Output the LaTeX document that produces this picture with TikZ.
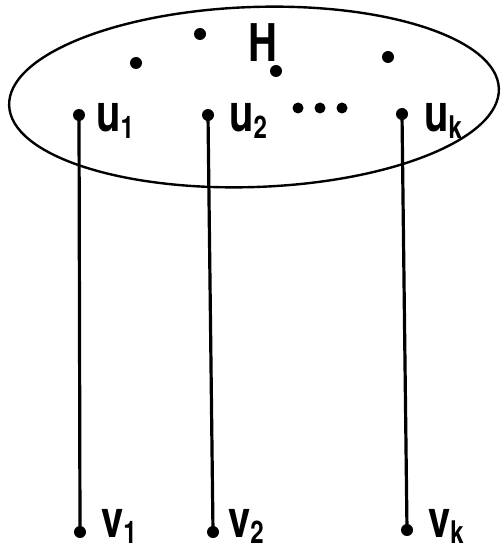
\documentclass[tikz,border=0pt]{standalone}
\usepackage{fontspec}
\setmainfont{TeX Gyre Heros}
\newcommand{\lab}[2]{\scalebox{1.0}[1.3]{\fontsize{40}{48}\selectfont\bfseries #1\raisebox{-0.12em}{\fontsize{24}{28}\selectfont\bfseries #2}}}
\begin{document}
\begin{tikzpicture}[x=1pt,y=-1pt,
  dot/.style={circle,fill=black,inner sep=0pt,minimum size=12pt},
  edge/.style={line width=3.2pt},
  lbl/.style={anchor=base west,inner sep=0pt}]
\useasboundingbox (0,0) rectangle (501,556);
\draw[line width=2.4pt,rotate around={2:(254,97)}] (254,97) ellipse [x radius=245, y radius=90];
\node[dot] (a) at (200,34) {};
\node[dot] (b) at (136,63) {};
\node[dot] (c) at (276,71) {};
\node[dot] (d) at (388,57) {};
\node[dot] (u1) at (79,115) {};
\node[dot] (u2) at (208,115) {};
\node[dot] (uk) at (402,114) {};
\node[dot,minimum size=11pt] (e1) at (298,108) {};
\node[dot,minimum size=11pt] (e2) at (320,108) {};
\node[dot,minimum size=11pt] (e3) at (342,108) {};
\node[dot] (v1) at (80,532) {};
\node[dot] (v2) at (213,532) {};
\node[dot] (vk) at (407,530) {};
\draw[edge] (u1.center) -- (v1.center);
\draw[edge] (u2.center) -- (v2.center);
\draw[edge] (uk.center) -- (vk.center);
\node[lbl] (H) at (248,62) {\lab{H}{}};
\node[lbl] (lu1) at (96,132) {\lab{u}{1}};
\node[lbl] (lu2) at (229,132) {\lab{u}{2}};
\node[lbl] (luk) at (424,132) {\lab{u}{k}};
\node[lbl] (lv1) at (101,537) {\lab{v}{1}};
\node[lbl] (lv2) at (228,537) {\lab{v}{2}};
\node[lbl] (lvk) at (428,537) {\lab{v}{k}};
\end{tikzpicture}
\end{document}
